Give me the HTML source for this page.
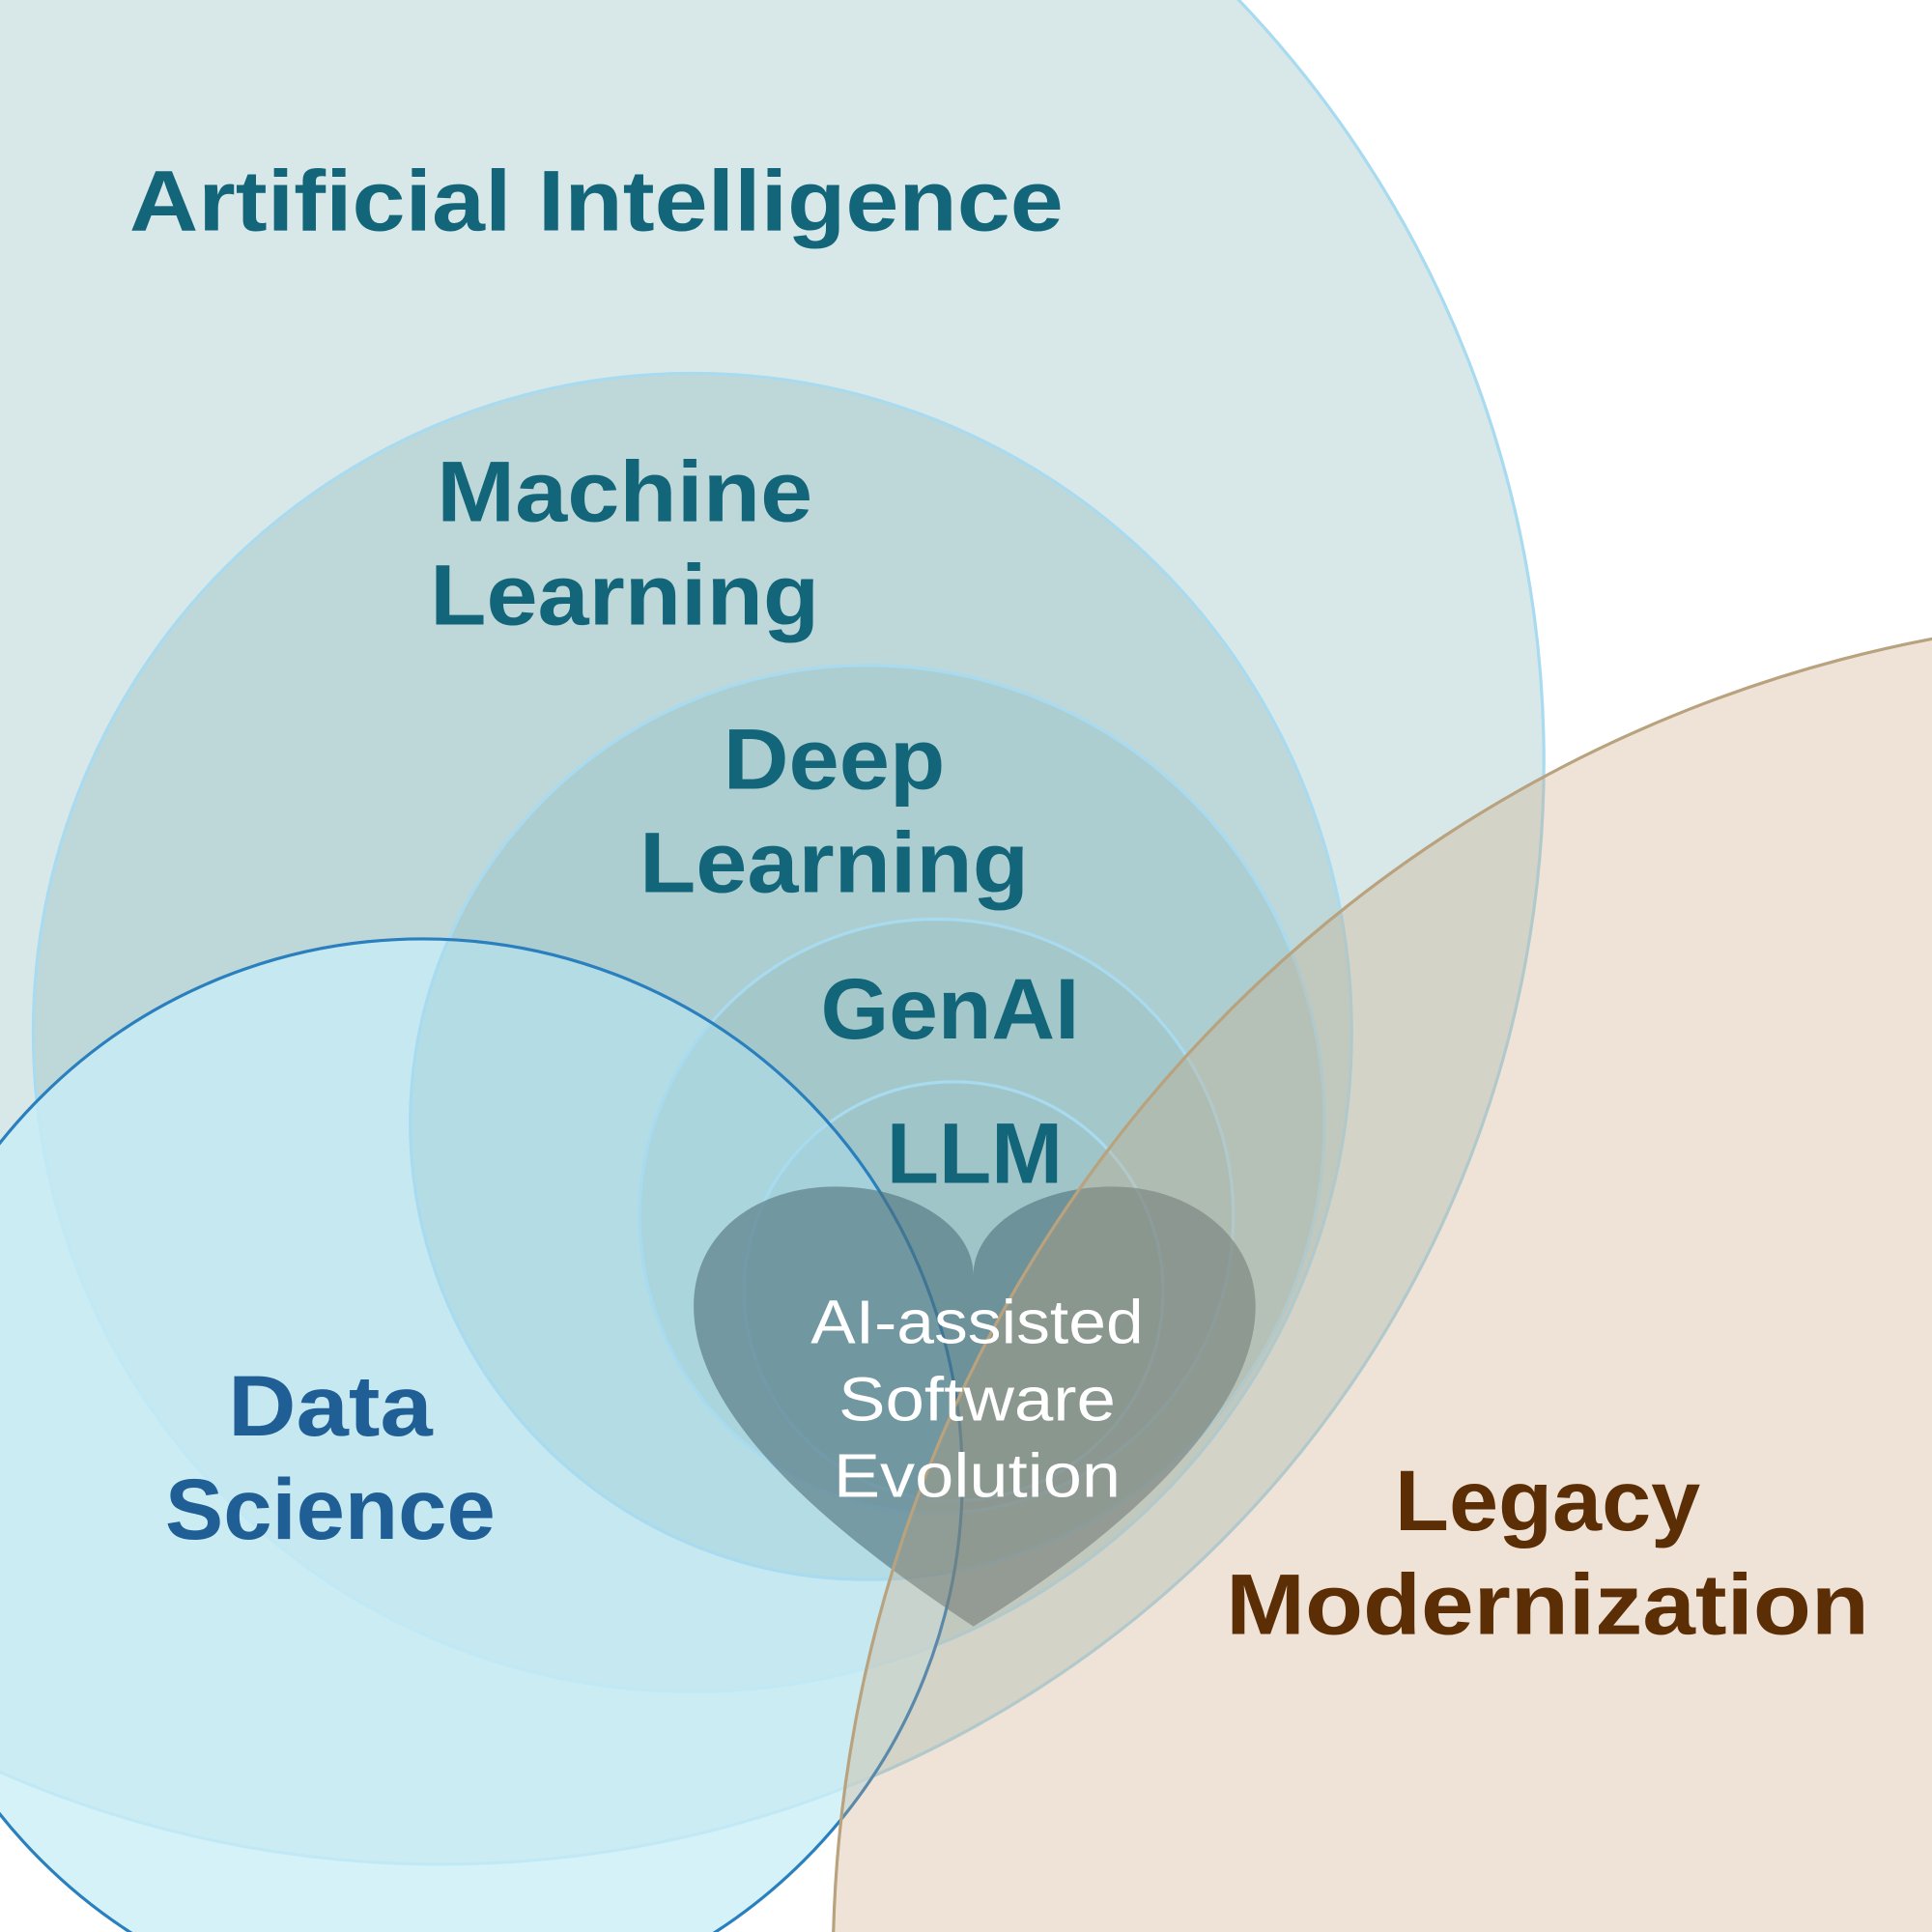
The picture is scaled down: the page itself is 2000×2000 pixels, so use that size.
<!DOCTYPE html>
<html><head><meta charset="utf-8"><style>html,body{margin:0;padding:0;background:#fff;overflow:hidden;width:2000px;height:2000px}svg{display:block}</style></head>
<body>
<svg width="2000" height="2000" viewBox="0 0 1568 1568" xmlns="http://www.w3.org/2000/svg">
<g stroke="#a8daf0" stroke-width="2.5">
<circle cx="358" cy="618" r="895" fill="#3a8a90" fill-opacity="0.2"/>
<circle cx="562" cy="838" r="535" fill="#3a8a90" fill-opacity="0.16"/>
</g>
<circle cx="343" cy="1200" r="438" fill="#c8edf7" fill-opacity="0.75"/>
<g stroke="#a8daf0" stroke-width="2.5">
<circle cx="704" cy="911" r="371" fill="#3a8a90" fill-opacity="0.13"/>
<circle cx="760" cy="987" r="241" fill="#3a8a90" fill-opacity="0.08"/>
<circle cx="774" cy="1048" r="170" fill="#3a8a90" fill-opacity="0.04"/>
</g>
<circle cx="343" cy="1200" r="438" fill="none" stroke="#2a7fbf" stroke-width="2.5"/>
<path d="M790 1320 C700 1260 563 1160 563 1060 C563 1000 615 963 678 963 C740 963 790 995 790 1035 C790 995 840 963 903 963 C968 963 1019 1005 1019 1060 C1019 1160 880 1265 790 1320 Z" fill="#4f6f7a" fill-opacity="0.6"/>
<circle cx="1774" cy="1597" r="1098" fill="#c9a27c" fill-opacity="0.3" stroke="#b9a27e" stroke-width="2.5"/>
<g font-family="Liberation Sans, sans-serif" font-weight="bold" fill="#13657a" text-anchor="middle">
<text x="484" y="187" font-size="70" textLength="758" lengthAdjust="spacingAndGlyphs">Artificial Intelligence</text>
<text x="507" y="423" font-size="70" textLength="305" lengthAdjust="spacingAndGlyphs">Machine</text>
<text x="507" y="507" font-size="70" textLength="316" lengthAdjust="spacingAndGlyphs">Learning</text>
<text x="677" y="640" font-size="70" textLength="180" lengthAdjust="spacingAndGlyphs">Deep</text>
<text x="677" y="724" font-size="70" textLength="316" lengthAdjust="spacingAndGlyphs">Learning</text>
<text x="771" y="843" font-size="70" textLength="210" lengthAdjust="spacingAndGlyphs">GenAI</text>
<text x="791" y="960" font-size="70" textLength="143" lengthAdjust="spacingAndGlyphs">LLM</text>
<text x="268" y="1165" font-size="70" fill="#1f5f96" textLength="166" lengthAdjust="spacingAndGlyphs">Data</text>
<text x="268" y="1249" font-size="70" fill="#1f5f96" textLength="268" lengthAdjust="spacingAndGlyphs">Science</text>
<text x="1256" y="1242" font-size="70" fill="#5c2e06" textLength="248" lengthAdjust="spacingAndGlyphs">Legacy</text>
<text x="1256" y="1326" font-size="70" fill="#5c2e06" textLength="522" lengthAdjust="spacingAndGlyphs">Modernization</text>
</g>
<g font-family="Liberation Sans, sans-serif" fill="#ffffff" text-anchor="middle" font-size="50">
<text x="793" y="1090" textLength="270" lengthAdjust="spacingAndGlyphs">AI-assisted</text>
<text x="793" y="1153" textLength="225" lengthAdjust="spacingAndGlyphs">Software</text>
<text x="793" y="1215" textLength="233" lengthAdjust="spacingAndGlyphs">Evolution</text>
</g>
</svg>
</body></html>
